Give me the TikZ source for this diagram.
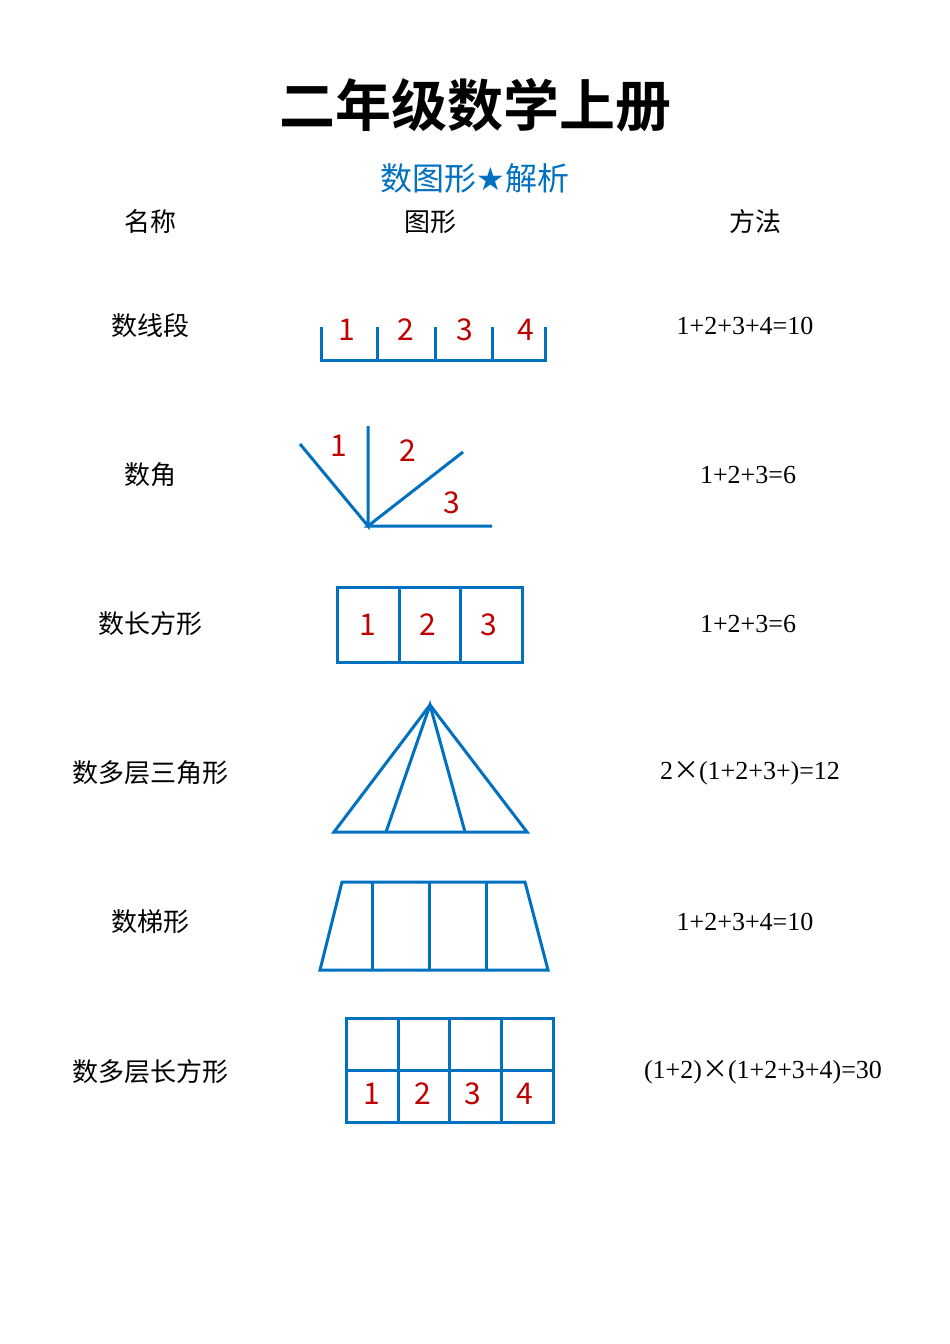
\documentclass[tikz,border=0pt]{standalone}
\usepackage{fontspec}
\newfontfamily\cjk{Noto Sans CJK SC}
\newfontfamily\cjkb{Noto Sans CJK SC Bold}
\newfontfamily\ser{Liberation Serif}
\newfontfamily\sym{DejaVu Sans}
\definecolor{bl}{HTML}{0070C0}
\definecolor{rd}{HTML}{C00000}
\begin{document}
\begin{tikzpicture}[x=1pt,y=-1pt,
 shp/.style={draw=bl,line width=3pt},
 num/.style={text=rd,font=\cjk\fontsize{30}{30}\selectfont},
 lab/.style={font=\cjk\fontsize{26}{26}\selectfont},
 meth/.style={font=\ser\fontsize{26}{26}\selectfont}]
\useasboundingbox (0,0) rectangle (950,1344);
\node (t) at (475,105) {\cjkb\fontsize{56}{56}\selectfont 二年级数学上册};
\node[text=bl] (st) at (475,178) {\cjk\fontsize{32}{32}\selectfont 数图形{\sym ★}解析};
\node[lab] (h1) at (150,222) {名称};
\node[lab] (h2) at (430,222) {图形};
\node[lab] (h3) at (755,222) {方法};
% row1
\node[lab] (n1) at (150,326) {数线段};
\draw[shp] (321,327)--(321,360)--(545,360)--(545,327);
\foreach \x in {377,435,492} \draw[shp] (\x,327)--(\x,360);
\foreach \x/\t in {347/1,406/2,465/3,526/4} \node[num] at (\x,330) {\t};
\node[meth] (m1) at (745,326) {1+2+3+4=10};
% row2
\node[lab] (n2) at (150,475) {数角};
\coordinate (v) at (368,526);
\draw[shp] (300,444)--(v)--(368,426);
\draw[shp] (463,452)--(v)--(492,526);
\node[num] at (339,446) {1};
\node[num] at (408,451) {2};
\node[num] at (452,503) {3};
\node[meth] (m2) at (748,475) {1+2+3=6};
% row3
\node[lab] (n3) at (150,624) {数长方形};
\draw[shp] (337,587) rectangle (522,662);
\draw[shp] (399,587)--(399,662) (460,587)--(460,662);
\foreach \x/\t in {368/1,428/2,489/3} \node[num] at (\x,625) {\t};
\node[meth] (m3) at (748,624) {1+2+3=6};
% row4
\node[lab] (n4) at (150,773) {数多层三角形};
\draw[shp,line join=miter] (430,705)--(334,832)--(527,832)--cycle;
\draw[shp] (386,832)--(430,705)--(465,832);
\node[meth] (m4) at (750,773) {2{\cjk ×}(1+2+3+)=12};
% row5
\node[lab] (n5) at (150,922) {数梯形};
\draw[shp] (342,882)--(525,882)--(548,970)--(320,970)--cycle;
\foreach \x in {372,429,486} \draw[shp] (\x,882)--(\x,970);
\node[meth] (m5) at (745,922) {1+2+3+4=10};
% row6
\node[lab] (n6) at (150,1072) {数多层长方形};
\draw[shp] (346,1018) rectangle (553,1122);
\draw[shp] (346,1070)--(553,1070);
\foreach \x in {398,449,501} \draw[shp] (\x,1018)--(\x,1122);
\foreach \x/\t in {372/1,423/2,473/3,525/4} \node[num] at (\x,1094) {\t};
\node[meth] (m6) at (763,1072) {(1+2){\cjk ×}(1+2+3+4)=30};
\end{tikzpicture}
\end{document}
